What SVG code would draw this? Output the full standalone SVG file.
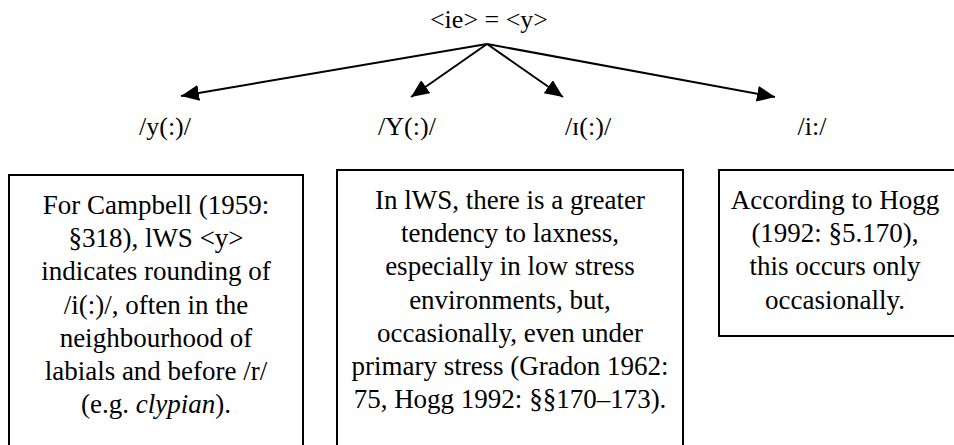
<svg xmlns="http://www.w3.org/2000/svg" width="954" height="445" viewBox="0 0 954 445">
<style>
.t{font-size:26px;text-anchor:middle;}
.b{font-size:27px;text-anchor:middle;}
.box{fill:#fff;stroke:#000;stroke-width:2;}
.c{stroke:#000;stroke-width:2;fill:none;marker-end:url(#ah);}
</style>
<defs>
<marker id="ah" markerUnits="userSpaceOnUse" markerWidth="20" markerHeight="16" refX="18" refY="8" orient="auto">
<path d="M0,0 L18,8 L0,16 z" fill="#000"/>
</marker>
</defs>
<rect width="954" height="445" fill="#fff"/>
<g font-family="'Liberation Serif', 'DejaVu Serif', 'Times New Roman', serif" fill="#000">
<g id="root"><text class="t" x="489" y="28">&lt;ie&gt; = &lt;y&gt;</text></g>
<g id="connectors">
<line class="c" x1="487" y1="44" x2="181" y2="96"/>
<line class="c" x1="487" y1="44" x2="411" y2="97"/>
<line class="c" x1="487" y1="44" x2="563" y2="97"/>
<line class="c" x1="487" y1="44" x2="775" y2="97"/>
</g>
<g id="n-y"><text class="t" x="165" y="135">/y(:)/</text></g>
<g id="n-Y"><text class="t" x="407" y="135">/Y(:)/</text></g>
<g id="n-I"><text class="t" x="588" y="135">/ɪ(:)/</text></g>
<g id="n-i"><text class="t" x="812" y="135">/i:/</text></g>
<g id="box-left">
<rect class="box" x="9" y="175" width="294" height="290"/>
<text class="b" x="156" y="214">For Campbell (1959:</text>
<text class="b" x="156" y="247">§318), lWS &lt;y&gt;</text>
<text class="b" x="156" y="280">indicates rounding of</text>
<text class="b" x="156" y="314">/i(:)/, often in the</text>
<text class="b" x="156" y="347">neighbourhood of</text>
<text class="b" x="156" y="380">labials and before /r/</text>
<text class="b" x="156" y="413">(e.g. <tspan font-style="italic">clypian</tspan>).</text>
</g>
<g id="box-middle">
<rect class="box" x="337" y="170" width="346" height="295"/>
<text class="b" x="510" y="209">In lWS, there is a greater</text>
<text class="b" x="510" y="242">tendency to laxness,</text>
<text class="b" x="510" y="275">especially in low stress</text>
<text class="b" x="510" y="309">environments, but,</text>
<text class="b" x="510" y="342">occasionally, even under</text>
<text class="b" x="510" y="375">primary stress (Gradon 1962:</text>
<text class="b" x="510" y="408">75, Hogg 1992: §§170–173).</text>
</g>
<g id="box-right">
<rect class="box" x="719" y="170" width="240" height="166"/>
<text class="b" x="835" y="209">According to Hogg</text>
<text class="b" x="835" y="242">(1992: §5.170),</text>
<text class="b" x="835" y="275">this occurs only</text>
<text class="b" x="835" y="309">occasionally.</text>
</g>
</g>
</svg>
